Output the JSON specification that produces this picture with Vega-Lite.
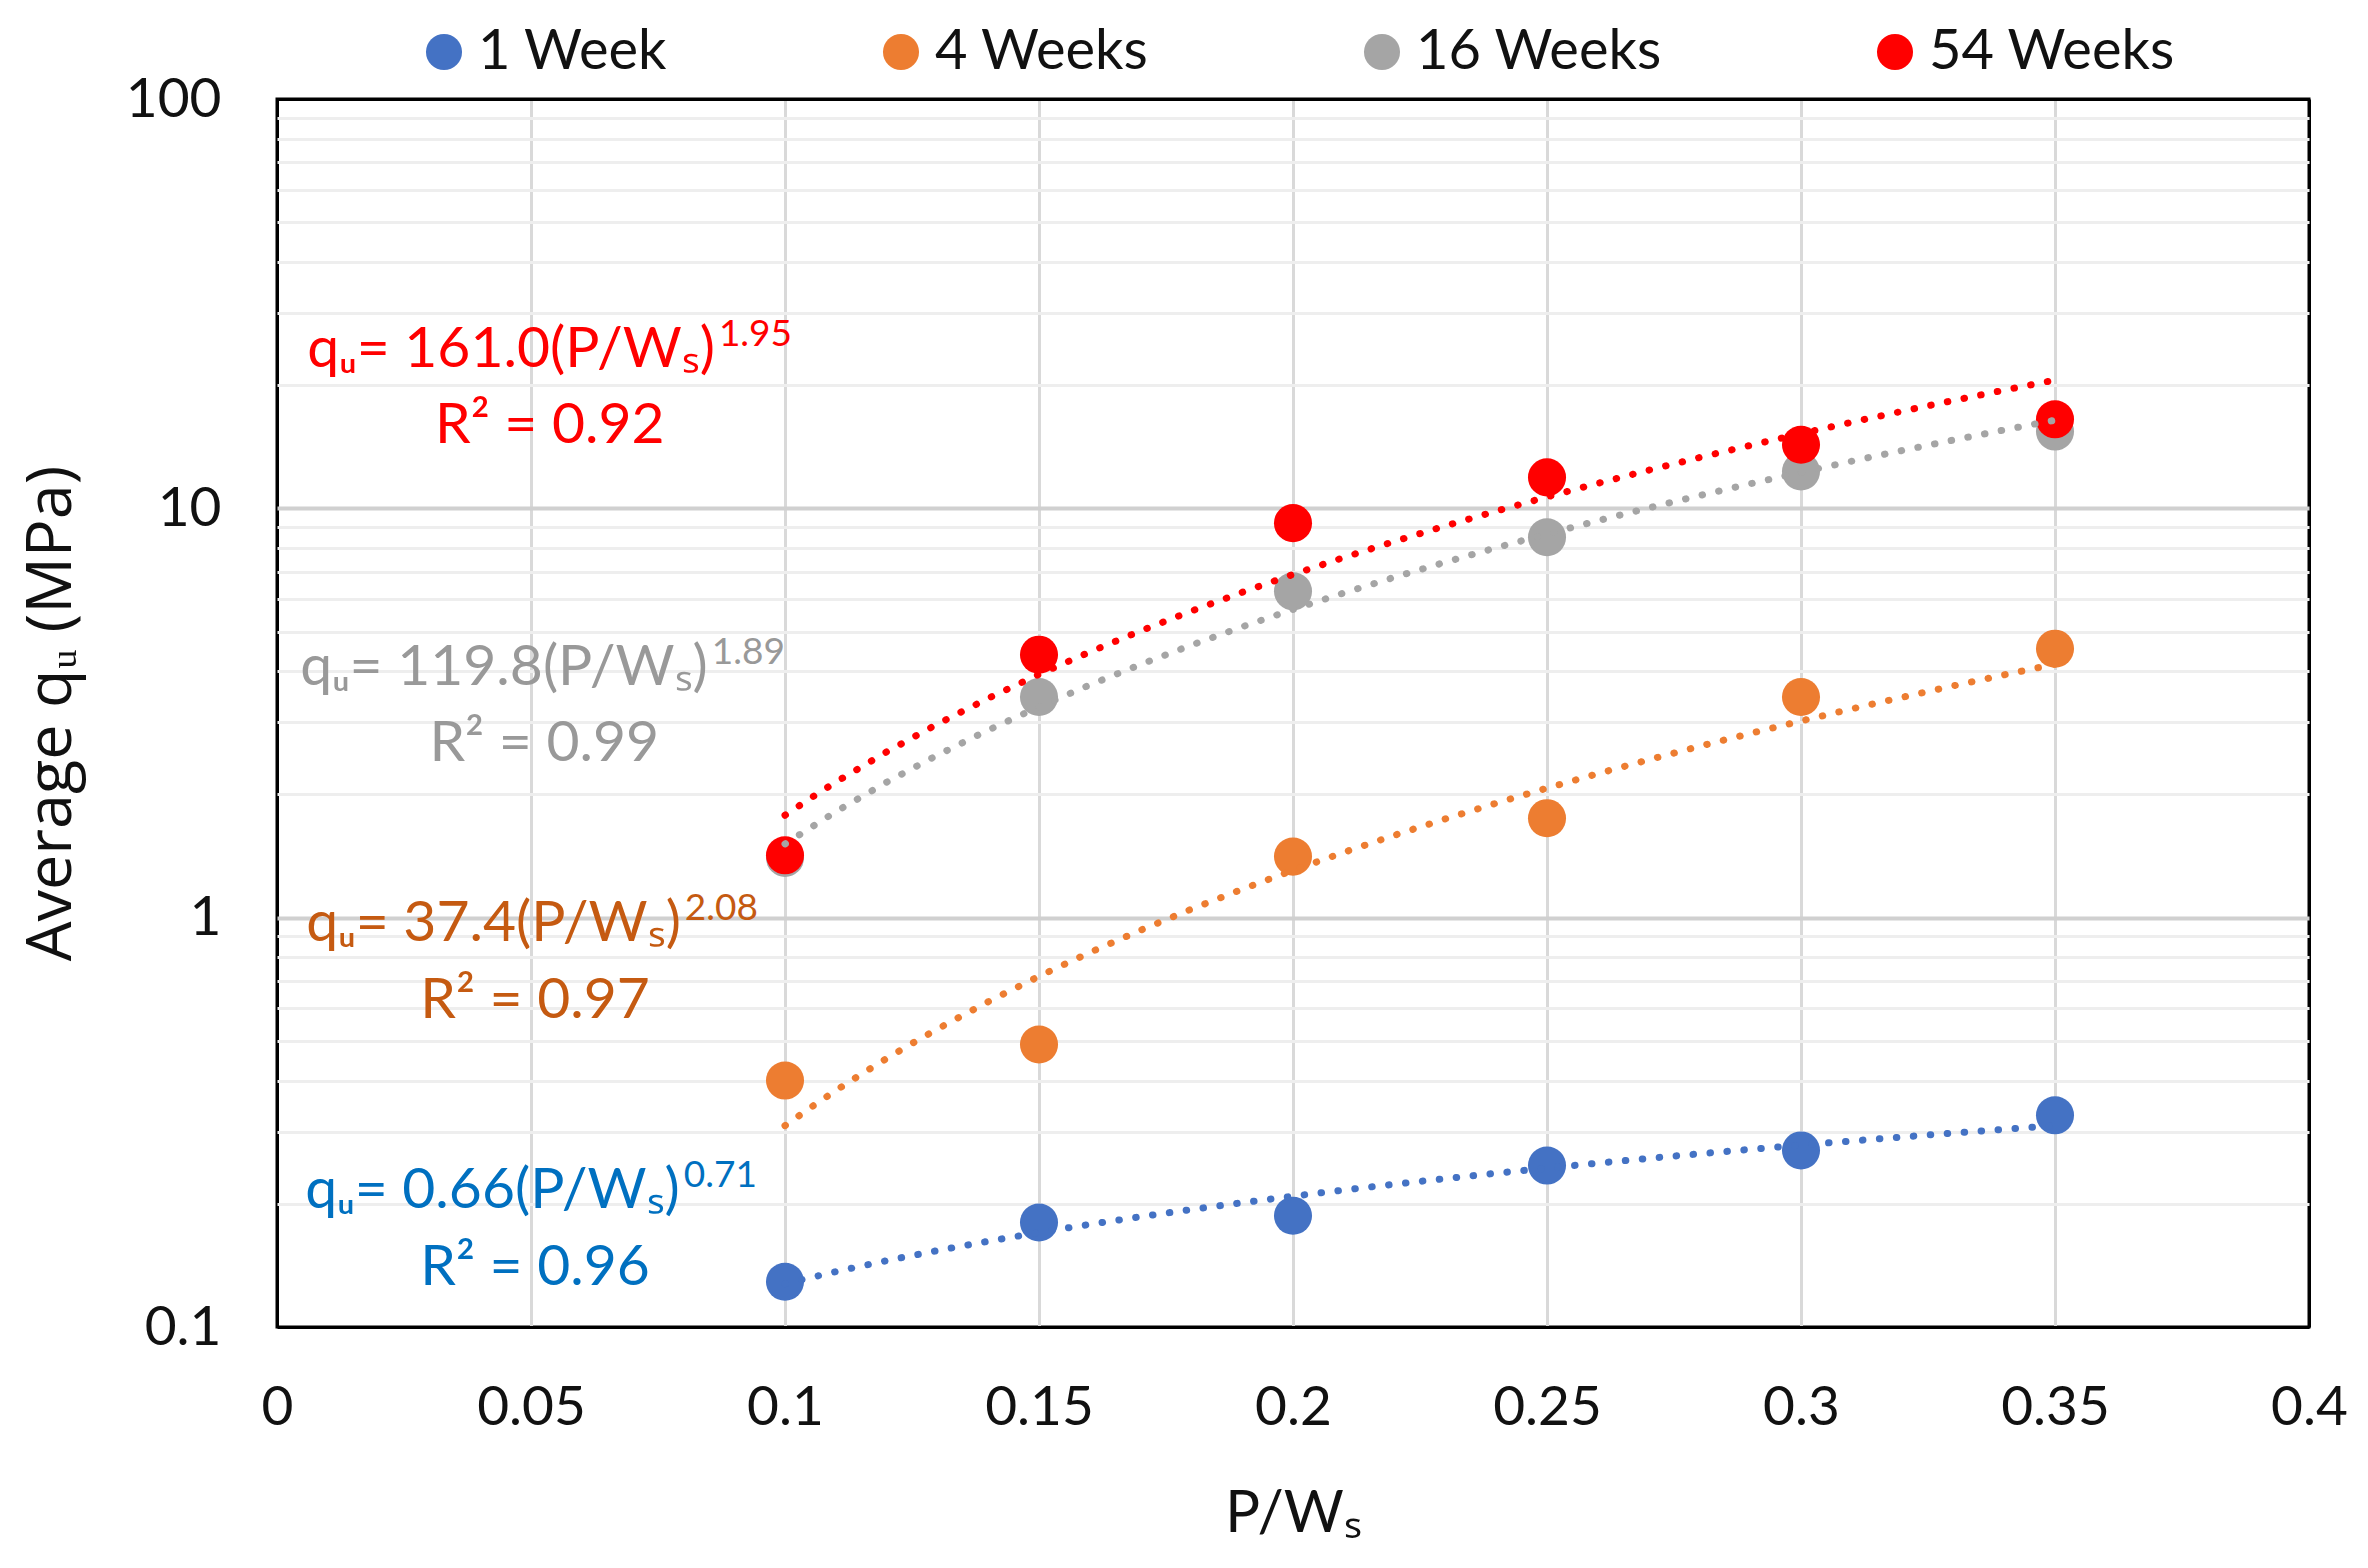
{
  "$schema": "https://vega.github.io/schema/vega-lite/v6.json",
  "width": 2032,
  "height": 1228,
  "padding": {"left": 20, "top": 24, "right": 5, "bottom": 5},
  "background": "white",
  "config": {
    "view": {"stroke": "#000000", "strokeWidth": 3},
    "font": "Lato",
    "axis": {
      "labelFont": "Lato",
      "labelFontSize": 55,
      "labelColor": "#111111",
      "titleColor": "#111111",
      "titleFontWeight": "normal",
      "labelFlush": false,
      "ticks": false,
      "tickSize": 0,
      "domain": false
    }
  },
  "data": {
    "values": [
      {"series": "1 Week", "pw": 0.1, "q": 0.129},
      {"series": "1 Week", "pw": 0.15, "q": 0.18},
      {"series": "1 Week", "pw": 0.2, "q": 0.187},
      {"series": "1 Week", "pw": 0.25, "q": 0.248},
      {"series": "1 Week", "pw": 0.3, "q": 0.27},
      {"series": "1 Week", "pw": 0.35, "q": 0.329},
      {"series": "4 Weeks", "pw": 0.1, "q": 0.4},
      {"series": "4 Weeks", "pw": 0.15, "q": 0.49},
      {"series": "4 Weeks", "pw": 0.2, "q": 1.41},
      {"series": "4 Weeks", "pw": 0.25, "q": 1.75},
      {"series": "4 Weeks", "pw": 0.3, "q": 3.46},
      {"series": "4 Weeks", "pw": 0.35, "q": 4.54},
      {"series": "16 Weeks", "pw": 0.1, "q": 1.4},
      {"series": "16 Weeks", "pw": 0.15, "q": 3.46},
      {"series": "16 Weeks", "pw": 0.2, "q": 6.27},
      {"series": "16 Weeks", "pw": 0.25, "q": 8.5},
      {"series": "16 Weeks", "pw": 0.3, "q": 12.3},
      {"series": "16 Weeks", "pw": 0.35, "q": 15.4},
      {"series": "54 Weeks", "pw": 0.1, "q": 1.42},
      {"series": "54 Weeks", "pw": 0.15, "q": 4.39},
      {"series": "54 Weeks", "pw": 0.2, "q": 9.2},
      {"series": "54 Weeks", "pw": 0.25, "q": 11.9},
      {"series": "54 Weeks", "pw": 0.3, "q": 14.3},
      {"series": "54 Weeks", "pw": 0.35, "q": 16.5}
    ]
  },
  "encoding": {
    "x": {
      "field": "pw",
      "type": "quantitative",
      "title": "P/Wₛ",
      "scale": {"domain": [0, 0.4], "nice": false, "zero": false},
      "axis": {
        "values": [0, 0.05, 0.1, 0.15, 0.2, 0.25, 0.3, 0.35, 0.4],
        "format": "~g",
        "labelPadding": 54,
        "gridColor": {"condition": {"test": "datum.value == 0 || datum.value == 0.4", "value": "#000000"}, "value": "#d9d9d9"},
        "gridWidth": 3,
        "titleFont": "Lato",
        "titleFontSize": 58,
        "titlePadding": 50
      }
    },
    "y": {
      "field": "q",
      "type": "quantitative",
      "title": "Average qᵤ (MPa)",
      "scale": {"type": "log", "domain": [0.1, 100], "nice": false},
      "axis": {
        "values": [0.1, 0.2, 0.3, 0.4, 0.5, 0.6, 0.7, 0.8, 0.9, 1, 2, 3, 4, 5, 6, 7, 8, 9, 10, 20, 30, 40, 50, 60, 70, 80, 90, 100],
        "format": "~g",
        "labelExpr": "datum.value == 0.1 || datum.value == 1 || datum.value == 10 || datum.value == 100 ? datum.label : ''",
        "labelPadding": 56,
        "gridColor": {"condition": [
          {"test": "datum.value == 0.1 || datum.value == 100", "value": "#000000"},
          {"test": "datum.value == 1 || datum.value == 10", "value": "#d0d0d0"}
        ], "value": "#eeeeee"},
        "gridWidth": {"condition": {"test": "datum.value == 1 || datum.value == 10", "value": 4}, "value": 3},
        "titleFont": "Open Sans",
        "titleFontSize": 63,
        "titlePadding": 42
      }
    }
  },
  "layer": [
    {
      "mark": {"type": "circle", "size": 1450, "opacity": 1},
      "encoding": {
        "color": {
          "field": "series",
          "type": "nominal",
          "scale": {
            "domain": ["1 Week", "4 Weeks", "16 Weeks", "54 Weeks"],
            "range": ["#4472C4", "#ED7D31", "#A5A5A5", "#FF0000"]
          },
          "legend": {
            "title": null,
            "orient": "none",
            "direction": "horizontal",
            "legendX": 139,
            "legendY": -75,
            "symbolType": "circle",
            "symbolSize": 1300,
            "symbolStrokeWidth": 0,
            "symbolOpacity": 1,
            "labelFont": "Lato",
            "labelFontSize": 56,
            "labelLimit": 600,
            "labelColor": "#111111",
            "labelOffset": 6,
            "columnPadding": 205,
            "gridAlign": "none"
          }
        }
      }
    },
    {
      "transform": [
        {"regression": "q", "on": "pw", "groupby": ["series"], "method": "pow", "extent": [0.1, 0.35]}
      ],
      "mark": {"type": "line", "strokeWidth": 7, "strokeDash": [0.5, 16.5], "strokeCap": "round"},
      "encoding": {
        "stroke": {
          "field": "series",
          "type": "nominal",
          "scale": {
            "domain": ["1 Week", "4 Weeks", "16 Weeks", "54 Weeks"],
            "range": ["#4472C4", "#ED7D31", "#A5A5A5", "#FF0000"]
          },
          "legend": null
        },
        "detail": {"field": "series"}
      }
    },
    {
      "data": {
        "values": [
          {"series": "54 Weeks", "part": "eq", "pw": 0.0862, "q": 24.4, "text": "qᵤ= 161.0(P/Wₛ)"},
          {"series": "54 Weeks", "part": "sup", "pw": 0.0862, "q": 24.4, "text": "1.95"},
          {"series": "54 Weeks", "part": "r2", "pw": 0.0537, "q": 15.9, "text": "R² = 0.92"},
          {"series": "16 Weeks", "part": "eq", "pw": 0.0848, "q": 4.07, "text": "qᵤ= 119.8(P/Wₛ)"},
          {"series": "16 Weeks", "part": "sup", "pw": 0.0848, "q": 4.07, "text": "1.89"},
          {"series": "16 Weeks", "part": "r2", "pw": 0.0526, "q": 2.65, "text": "R² = 0.99"},
          {"series": "4 Weeks", "part": "eq", "pw": 0.0795, "q": 0.965, "text": "qᵤ= 37.4(P/Wₛ)"},
          {"series": "4 Weeks", "part": "sup", "pw": 0.0795, "q": 0.965, "text": "2.08"},
          {"series": "4 Weeks", "part": "r2", "pw": 0.0508, "q": 0.625, "text": "R² = 0.97"},
          {"series": "1 Week", "part": "eq", "pw": 0.0793, "q": 0.215, "text": "qᵤ= 0.66(P/Wₛ)"},
          {"series": "1 Week", "part": "sup", "pw": 0.0793, "q": 0.215, "text": "0.71"},
          {"series": "1 Week", "part": "r2", "pw": 0.0508, "q": 0.139, "text": "R² = 0.96"}
        ]
      },
      "layer": [
        {
          "transform": [{"filter": "datum.part == 'eq'"}],
          "mark": {"type": "text", "align": "right", "baseline": "middle", "font": "Lato", "fontSize": 57}
        },
        {
          "transform": [{"filter": "datum.part == 'sup'"}],
          "mark": {"type": "text", "align": "left", "baseline": "middle", "font": "Lato", "fontSize": 37, "dx": 4, "dy": -15}
        },
        {
          "transform": [{"filter": "datum.part == 'r2'"}],
          "mark": {"type": "text", "align": "center", "baseline": "middle", "font": "Lato", "fontSize": 57}
        }
      ],
      "encoding": {
        "text": {"field": "text"},
        "fill": {
          "field": "series",
          "type": "nominal",
          "scale": {
            "domain": ["1 Week", "4 Weeks", "16 Weeks", "54 Weeks"],
            "range": ["#0070C0", "#C55A11", "#999999", "#FF0000"]
          },
          "legend": null
        }
      }
    }
  ]
}
